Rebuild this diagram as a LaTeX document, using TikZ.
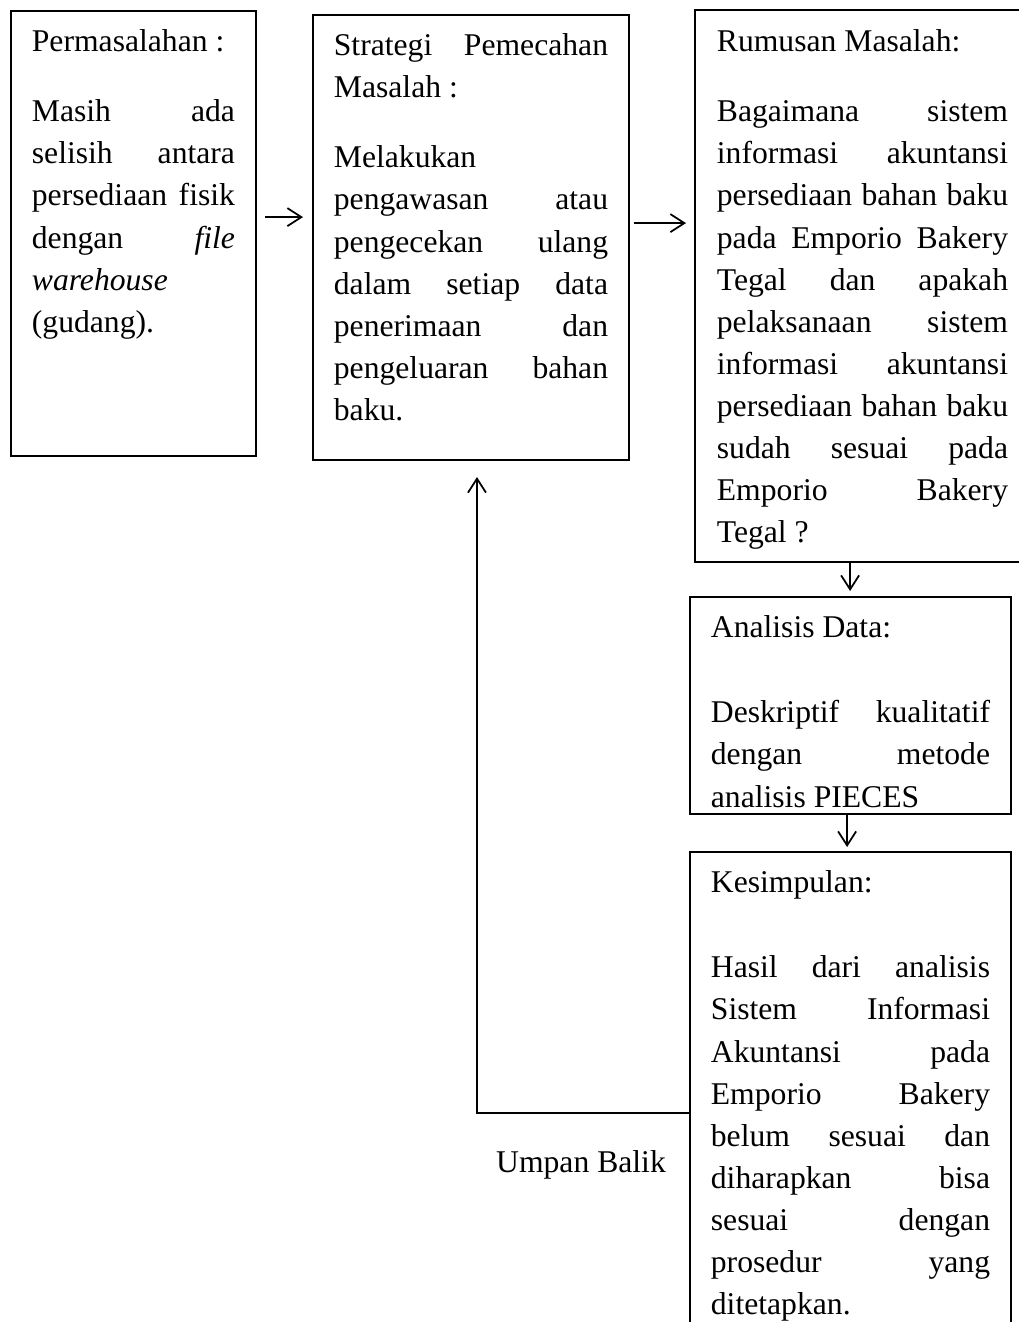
\documentclass[tikz,border=0pt]{standalone}
\usepackage{fontspec}
\setmainfont{Liberation Serif}
\usetikzlibrary{shapes,arrows.meta}
\hyphenpenalty=10000
\exhyphenpenalty=10000

\begin{document}
\begin{tikzpicture}[x=0.01cm,y=-0.01cm,
      every node/.style={font=\fontsize{9}{11.95}\selectfont},
      box/.style={draw,line width=0.5pt,rectangle,anchor=north west,align=justify,
        inner xsep=0.21cm,inner ysep=0pt,text height=0.41cm},
      arr/.style={line width=0.5pt,-{Straight Barb[length=0.14cm,width=0.18cm]}}]
    \useasboundingbox (0,0) rectangle (1019,1322);
    \clip (0,0) rectangle (1019,1322);
    \node[box,text width=2.03cm,text depth=4.04cm] (masalah) at (10,10) {Permasalahan :\par\vspace{0.28cm}
      Masih ada\linebreak selisih antara\linebreak persediaan fisik\linebreak
      dengan \textit{file}\linebreak \textit{warehouse}\\ (gudang).};
    \node[box,text width=2.74cm,text depth=4.04cm] (strategi) at (312,14) {Strategi Pemecahan\linebreak Masalah :\par\vspace{0.28cm}
      Melakukan\\ pengawasan atau\linebreak pengecekan ulang\linebreak dalam setiap data\linebreak
      penerimaan dan\linebreak pengeluaran bahan\linebreak baku.};
    % kotak rumusan terpotong di kanan
    \node[box,draw=none,text width=2.91cm,text depth=5.09cm] (rumusan) at (695,10) {Rumusan Masalah:\par\vspace{0.28cm}
      Bagaimana sistem\linebreak informasi akuntansi\linebreak persediaan bahan baku\linebreak
      pada Emporio Bakery\linebreak Tegal dan apakah\linebreak pelaksanaan sistem\linebreak
      informasi akuntansi\linebreak persediaan bahan baku\linebreak sudah sesuai pada\linebreak
      Emporio Bakery\linebreak Tegal ?};
    \draw[line width=0.5pt] (rumusan.north east) -- (rumusan.north west) -- (rumusan.south west) -- (rumusan.south east);
    \node[box,text width=2.79cm,text depth=1.76cm] (analisis) at (689,596) {Analisis Data:\par\vspace{0.43cm}
      Deskriptif kualitatif\linebreak dengan metode\linebreak analisis PIECES};
    \node[box,text width=2.79cm,text depth=4.68cm] (kesimpulan) at (689,851) {Kesimpulan:\par\vspace{0.43cm}
      Hasil dari analisis\linebreak Sistem Informasi\linebreak Akuntansi pada\linebreak
      Emporio Bakery\linebreak belum sesuai dan\linebreak diharapkan bisa\linebreak
      sesuai dengan\linebreak prosedur yang\linebreak ditetapkan.};
    \node (umpan) at (581,1165) {Umpan Balik};
    % panah antar kotak
    \draw[arr,shorten <=0.08cm,shorten >=0.09cm] ([yshift=-2.07cm]masalah.north east) coordinate (p1) -- (p1 -| strategi.west);
    \draw[arr,shorten <=0.04cm,shorten >=0.09cm] ([yshift=-2.09cm]strategi.north east) coordinate (p2) -- (p2 -| rumusan.west);
    \draw[arr,shorten >=0.05cm] ([xshift=1.55cm]rumusan.south west) coordinate (p3) -- (p3 |- analisis.north);
    \draw[arr,shorten >=0.04cm] ([xshift=1.58cm]analisis.south west) coordinate (p4) -- (p4 |- kesimpulan.north);
    % umpan balik
    \draw[arr,shorten >=0.16cm] ([yshift=-2.62cm]kesimpulan.north west) -| ([xshift=0.06cm]strategi.south);
\end{tikzpicture}
\end{document}
